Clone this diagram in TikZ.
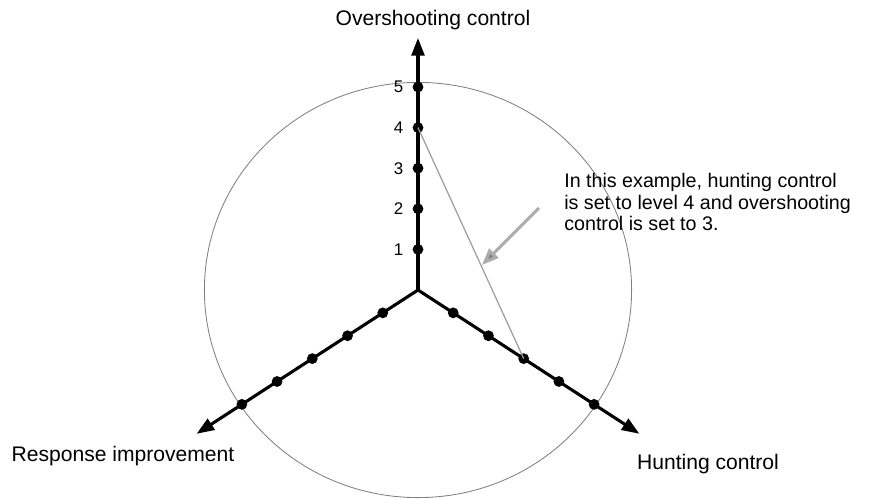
\documentclass[tikz,border=0pt]{standalone}
\usepackage{fontspec}
\setmainfont{Liberation Sans}
\usetikzlibrary{arrows.meta, positioning, calc}

\begin{document}
\begin{tikzpicture}[
  axis/.style={line width=2.2pt, -{Triangle[length=0.44cm, width=0.32cm]}},
  dot/.style={circle, fill=black, inner sep=0pt, minimum size=0.27cm},
  num/.style={font=\fontsize{12}{14}\selectfont, inner sep=0pt},
  ring/.style={draw=gray, line width=0.6pt},
  guide/.style={draw=gray!75, line width=0.9pt},
  pointer/.style={draw=gray!65, line width=2.2pt, -{Triangle[length=0.42cm, width=0.32cm, fill=gray]}},
  lbl/.style={font=\fontsize{15}{16.8}\selectfont, inner sep=0pt},
  note/.style={font=\fontsize{14}{15.6}\selectfont, inner sep=0pt, align=left}
]
  \useasboundingbox (-10.45,-5.225) rectangle (11.45,7.25);
  \coordinate (O) at (0,0);
  \coordinate (tipO) at (90:6.3);
  \coordinate (tipH) at (-33:6.6);
  \coordinate (tipR) at (213:6.6);

  \draw[ring] (O) ellipse (5.34 and 5.19);

  \draw[axis] (O) -- (tipO);
  \draw[axis] (O) -- (tipH);
  \draw[axis] (O) -- (tipR);

  \foreach \k in {1,...,5} {
    \node[dot] (o\k) at (90:1.015*\k) {};
    \node[num, left=0.22cm of o\k] (n\k) {\k};
    \node[dot] (h\k) at (-33:1.05*\k) {};
    \node[dot] (r\k) at (213:1.05*\k) {};
  }

  \draw[guide] (o4.center) -- (h3.center);

  \coordinate (ptail) at (3.025,2.05);
  \coordinate (ptip) at (1.6,0.625);
  \draw[pointer] (ptail) -- (ptip);

  \node[note, anchor=west] (remark) at (3.65,2.2) {In this example, hunting control\\is set to level 4 and overshooting\\control is set to 3.};

  \node[lbl] (otitle) at (0.375,6.75) {Overshooting control};
  \node[lbl] (rtitle) at (-7.375,-4.15) {Response improvement};
  \node[lbl] (htitle) at (7.25,-4.35) {Hunting control};
\end{tikzpicture}
\end{document}
